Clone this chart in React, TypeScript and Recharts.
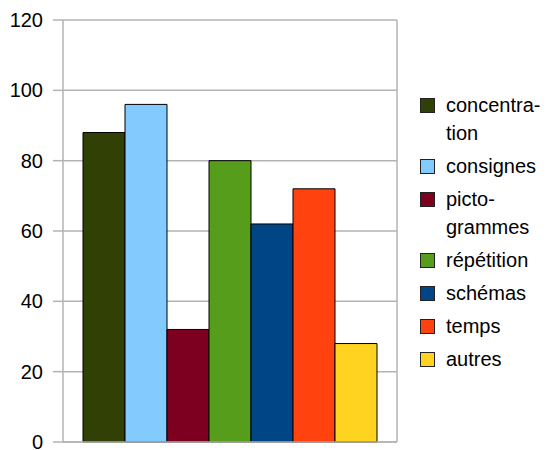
import React from 'react';
import { BarChart, Bar, XAxis, YAxis, CartesianGrid } from 'recharts';

const categories = ['concentration', 'consignes', 'pictogrammes', 'répétition', 'schémas', 'temps', 'autres'];
const legendLabels = [['concentra-', 'tion'], ['consignes'], ['picto-', 'grammes'], ['répétition'], ['schémas'], ['temps'], ['autres']];
const values = [88, 96, 32, 80, 62, 72, 28];
const colors = ['#314004', '#83caff', '#7e0021', '#579d1c', '#004586', '#ff420e', '#ffd320'];
const yTicks = [0, 20, 40, 60, 80, 100, 120];

const row: Record<string, number | string> = { name: '' };
categories.forEach((c, i) => {
    row[c] = values[i];
});
const data = [row];

const FONT = '"Liberation Sans", Arial, sans-serif';

const ChartLegend = () => (
    <div style={{ position: 'absolute', left: 420, top: 91, width: 131, fontFamily: FONT, fontSize: 20, color: '#000' }}>
        {categories.map((c, i) => (
            <div key={c} style={{ display: 'flex', alignItems: 'flex-start', marginBottom: 5 }}>
                <div
                    style={{
                        width: 13,
                        height: 13,
                        marginTop: 7,
                        marginRight: 11,
                        background: colors[i],
                        border: '1px solid #222',
                        flexShrink: 0,
                    }}
                />
                <div style={{ lineHeight: '28px' }}>
                    {legendLabels[i].map((l, j) => (
                        <div key={j}>{l}</div>
                    ))}
                </div>
            </div>
        ))}
    </div>
);

const App: React.FC = () => {
    return (
        <div style={{ position: 'absolute', left: 0, top: 0, width: 551, height: 450, background: '#fff' }}>
            <BarChart
                width={551}
                height={450}
                data={data}
                margin={{ top: 20, right: 154, bottom: 0, left: 0 }}
                barCategoryGap={20}
                barGap={0}
            >
                <CartesianGrid
                    stroke="#b3b3b3"
                    strokeWidth={1.5}
                    vertical={true}
                    verticalCoordinatesGenerator={({ offset }: any) => [offset.left + offset.width]}
                />
                <XAxis
                    dataKey="name"
                    height={8}
                    tick={false}
                    tickLine={false}
                    axisLine={{ stroke: '#b3b3b3', strokeWidth: 1.5 }}
                />
                <YAxis
                    domain={[0, 120]}
                    ticks={yTicks}
                    width={63}
                    tickSize={10}
                    tickMargin={10}
                    interval={0}
                    axisLine={{ stroke: '#b3b3b3', strokeWidth: 1.5 }}
                    tickLine={{ stroke: '#b3b3b3', strokeWidth: 1.5 }}
                    tick={{ fill: '#000', fontSize: 20, fontFamily: FONT }}
                />
                {categories.map((c, i) => (
                    <Bar
                        key={c}
                        dataKey={c}
                        fill={colors[i]}
                        stroke="#000"
                        strokeWidth={1}
                        isAnimationActive={false}
                    />
                ))}
            </BarChart>
            <ChartLegend />
        </div>
    );
};

export default App;
